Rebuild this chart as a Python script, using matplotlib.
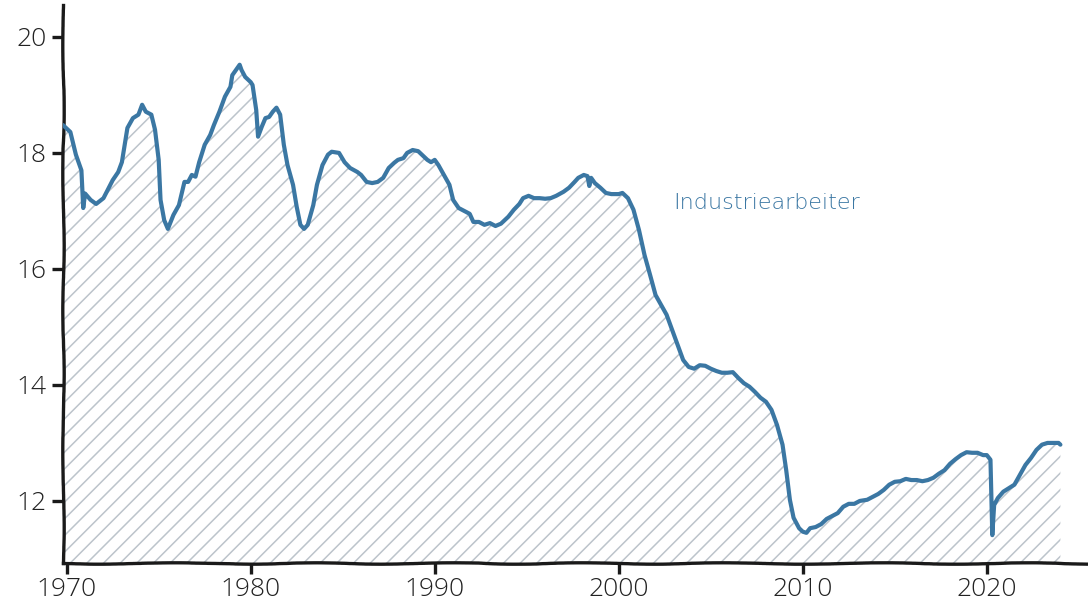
import matplotlib
matplotlib.use("Agg")
import matplotlib.pyplot as plt
import numpy as np

# US manufacturing employment (millions)
years = [1969.8, 1970.2, 1970.5, 1970.8, 1970.9, 1971.0, 1971.3, 1971.6, 1972.0, 1972.5,
         1972.8, 1973.0, 1973.3, 1973.6, 1973.9, 1974.1, 1974.3, 1974.6, 1974.8, 1975.0,
         1975.1, 1975.3, 1975.5, 1975.8, 1976.1, 1976.4, 1976.6, 1976.8, 1977.0, 1977.2,
         1977.5, 1977.8, 1978.0, 1978.3, 1978.6, 1978.9, 1979.0, 1979.2, 1979.4, 1979.5,
         1979.7, 1980.0, 1980.1, 1980.3, 1980.4, 1980.6, 1980.8, 1981.0, 1981.2, 1981.4,
         1981.6, 1981.8, 1982.0, 1982.3, 1982.5, 1982.7, 1982.9, 1983.1, 1983.4, 1983.6,
         1983.9, 1984.2, 1984.4, 1984.8, 1985.1, 1985.4, 1985.8, 1986.0, 1986.3, 1986.6,
         1986.9, 1987.2, 1987.5, 1987.8, 1988.0, 1988.3, 1988.5, 1988.8, 1989.1, 1989.3,
         1989.6, 1989.8, 1990.0, 1990.2, 1990.5, 1990.8, 1991.0, 1991.3, 1991.6, 1991.9,
         1992.1, 1992.4, 1992.7, 1993.0, 1993.3, 1993.6, 1994.0, 1994.3, 1994.6, 1994.8,
         1995.1, 1995.4, 1995.7, 1996.0, 1996.3, 1996.6, 1997.0, 1997.3, 1997.6, 1997.8,
         1998.1, 1998.3, 1998.4, 1998.5, 1998.7, 1999.0, 1999.3, 1999.6, 2000.0, 2000.2,
         2000.5, 2000.8, 2001.1, 2001.4, 2001.7, 2002.0, 2002.3, 2002.6, 2002.9, 2003.2,
         2003.5, 2003.8, 2004.1, 2004.4, 2004.7, 2005.0, 2005.3, 2005.6, 2005.9, 2006.2,
         2006.5, 2006.8, 2007.1, 2007.4, 2007.7, 2008.0, 2008.3, 2008.6, 2008.9, 2009.1,
         2009.3, 2009.5, 2009.8, 2010.0, 2010.2, 2010.4, 2010.7, 2011.0, 2011.3, 2011.6,
         2011.9, 2012.2, 2012.5, 2012.8, 2013.1, 2013.5, 2013.8, 2014.1, 2014.4, 2014.7,
         2015.0, 2015.3, 2015.6, 2015.9, 2016.2, 2016.5, 2016.8, 2017.1, 2017.4, 2017.7,
         2018.0, 2018.3, 2018.6, 2018.9, 2019.2, 2019.5, 2019.8, 2020.0, 2020.2, 2020.3,
         2020.4, 2020.6, 2020.9, 2021.2, 2021.5, 2021.8, 2022.1, 2022.4, 2022.7, 2023.0,
         2023.3, 2023.6, 2023.9, 2024.0]
workers = [18.48, 18.36, 17.97, 17.70, 17.05, 17.30, 17.19, 17.12, 17.22, 17.53,
           17.67, 17.84, 18.43, 18.60, 18.66, 18.83, 18.71, 18.66, 18.40, 17.88,
           17.19, 16.84, 16.69, 16.93, 17.10, 17.50, 17.50, 17.62, 17.59, 17.84,
           18.14, 18.31, 18.48, 18.71, 18.97, 19.14, 19.34, 19.43, 19.52, 19.43,
           19.31, 19.22, 19.17, 18.74, 18.28, 18.45, 18.60, 18.62, 18.71, 18.78,
           18.66, 18.14, 17.79, 17.45, 17.07, 16.76, 16.69, 16.76, 17.10, 17.45,
           17.79, 17.97, 18.02, 18.00, 17.84, 17.74, 17.67, 17.62, 17.50, 17.48,
           17.50, 17.57, 17.74, 17.83, 17.88, 17.91, 18.00, 18.05, 18.03, 17.97,
           17.88, 17.84, 17.88, 17.79, 17.62, 17.45, 17.19, 17.05, 17.00, 16.95,
           16.81, 16.81, 16.76, 16.79, 16.74, 16.78, 16.90, 17.02, 17.12, 17.22,
           17.26, 17.22, 17.22, 17.21, 17.22, 17.26, 17.33, 17.40, 17.50, 17.57,
           17.62, 17.60, 17.43, 17.57, 17.48, 17.40, 17.31, 17.29, 17.29, 17.31,
           17.22, 17.02, 16.67, 16.24, 15.90, 15.55, 15.38, 15.21, 14.95, 14.69,
           14.43, 14.31, 14.28, 14.34, 14.33, 14.28, 14.24, 14.21, 14.21, 14.22,
           14.12, 14.03, 13.97, 13.88, 13.78, 13.71, 13.57, 13.31, 12.97, 12.53,
           12.02, 11.71, 11.53, 11.47, 11.45, 11.53, 11.55, 11.60, 11.69, 11.74,
           11.79, 11.90, 11.95, 11.95, 12.00, 12.02, 12.07, 12.12, 12.19, 12.28,
           12.33, 12.34, 12.38, 12.36, 12.36, 12.34, 12.36, 12.40, 12.47, 12.53,
           12.64, 12.72, 12.79, 12.84, 12.83, 12.83, 12.79, 12.79, 12.71, 11.41,
           11.93, 12.05, 12.16, 12.22, 12.28, 12.45, 12.62, 12.74, 12.88, 12.97,
           13.00, 13.00, 13.00, 12.97]

series_label = "Industriearbeiter"
x_ticks = [1970, 1980, 1990, 2000, 2010, 2020]
y_ticks = [12, 14, 16, 18, 20]

BLUE = "#3b77a3"
plt.rcParams['font.family'] = ['Open Sans', 'DejaVu Sans']
plt.rcParams['hatch.color'] = '#bcc4cb'
plt.rcParams['hatch.linewidth'] = 1.1

fig = plt.figure(figsize=(10.88, 6.08), dpi=100)
ax = fig.add_axes([63/1088, 45/608, 1 - 63/1088, (563 - 5)/608])

ymin = 10.93
ax.set_xlim(1969.8, 2025.5)
ax.set_ylim(ymin, 20.55)

fill = ax.fill_between(years, workers, ymin, facecolor='none', hatch='//',
                       edgecolor='#bcc4cb', linewidth=0)
ax.plot(years, workers, color=BLUE, lw=3.0, solid_joinstyle='round',
        solid_capstyle='round', zorder=3)

ax.text(2002.95, 17.13, series_label, color=BLUE, fontsize=16,
        family=['DejaVu Sans'], fontweight='light', ha='left', va='center')

for s in ['top', 'right']:
    ax.spines[s].set_visible(False)
for s in ['left', 'bottom']:
    ax.spines[s].set_linewidth(2.4)
    ax.spines[s].set_color('#1a1a1a')
    ax.spines[s].set_sketch_params(scale=0.7, length=200, randomness=4)

ax.set_xticks(x_ticks)
ax.set_yticks(y_ticks)
ax.tick_params(axis='both', length=8, width=2.4, color='#1a1a1a',
               labelsize=19, labelcolor='#222222')
for lab in ax.get_xticklabels() + ax.get_yticklabels():
    lab.set_fontweight('light')
ax.tick_params(axis='y', pad=4)
ax.tick_params(axis='x', pad=2)

fig.savefig("out.png", dpi=100)
